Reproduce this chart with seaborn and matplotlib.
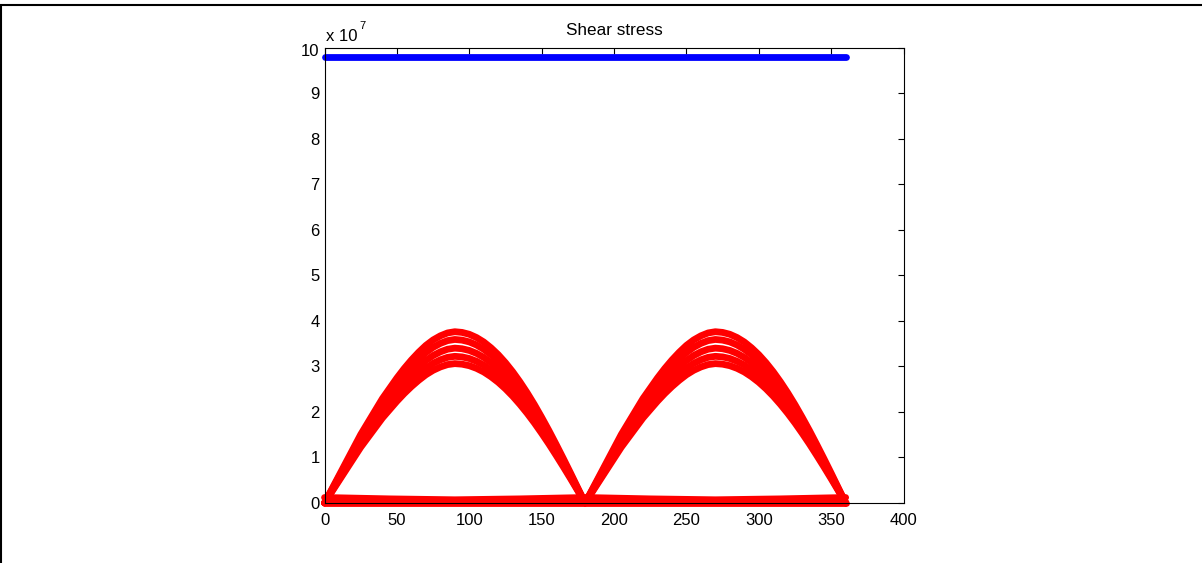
import numpy as np
import matplotlib
matplotlib.use("Agg")
import matplotlib.pyplot as plt
import seaborn as sns
from matplotlib.lines import Line2D
from matplotlib.ticker import FuncFormatter, MultipleLocator

# Crank angle grid (degrees)
angle_deg = np.arange(0, 361, 5)

# Normalised shear profile over one half turn: loading side (0-90 deg)
# followed by unloading side (95-180 deg)
loading_profile = [
    0.000, 0.080, 0.160, 0.240, 0.320, 0.400, 0.470, 0.540, 0.610, 0.670,
    0.730, 0.785, 0.835, 0.880, 0.920, 0.952, 0.976, 0.993, 1.000,
]
unloading_profile = [
    0.996, 0.985, 0.966, 0.940, 0.906, 0.866, 0.819, 0.766, 0.707, 0.643,
    0.574, 0.500, 0.423, 0.342, 0.259, 0.174, 0.087, 0.000,
]
half_turn_profile = loading_profile + unloading_profile
full_turn_profile = half_turn_profile + half_turn_profile[1:]

# Peak shear stress of each load case (Pa)
peak_stress = [3.06e7, 3.22e7, 3.40e7, 3.59e7, 3.76e7]

# Residual shear stress along the bottom (Pa)
floor_angles = [0, 45, 90, 135, 180, 225, 270, 315, 360]
floor_low = [0.01e7, 0.01e7, 0.01e7, 0.01e7, 0.01e7, 0.01e7, 0.01e7, 0.01e7, 0.01e7]
floor_high = [0.12e7, 0.09e7, 0.07e7, 0.09e7, 0.12e7, 0.09e7, 0.07e7, 0.09e7, 0.12e7]

# Allowable shear stress (Pa)
allow_angles = [0, 360]
allow_stress = [9.8e7, 9.8e7]

x_ticks = list(range(0, 401, 50))
y_scale = 1e7
y_top = 10

sns.set_theme(style="white")
plt.rcParams["font.family"] = ["Liberation Sans", "DejaVu Sans"]

fig = plt.figure(figsize=(12.02, 5.63), dpi=100)
ax = fig.add_axes([0.270, 0.1066, 0.4817, 0.809])

red = "#ff0000"
blue = "#0000ff"
lw = 4.9
line_kw = dict(estimator=None, sort=False, solid_capstyle="round",
               solid_joinstyle="round", clip_on=False, legend=False)

for peak in peak_stress:
    sns.lineplot(x=angle_deg, y=peak * np.array(full_turn_profile),
                 color=red, linewidth=lw, ax=ax, **line_kw)

for floor in (floor_low, floor_high):
    sns.lineplot(x=floor_angles, y=floor, color=red, linewidth=lw, ax=ax, **line_kw)

sns.lineplot(x=allow_angles, y=allow_stress, color=blue, linewidth=lw, ax=ax, **line_kw)

ax.set_xlim(0, 400)
ax.set_ylim(0, y_top * y_scale)
ax.set_xticks(x_ticks)
ax.yaxis.set_major_locator(MultipleLocator(y_scale))


def y_label(v, _):
    # the top label is placed by hand, slightly lower, below the exponent
    scaled = v / y_scale
    return "" if round(scaled) == y_top else f"{scaled:g}"


ax.yaxis.set_major_formatter(FuncFormatter(y_label))
ax.set_xlabel("")
ax.set_ylabel("")

for side in ax.spines.values():
    side.set_visible(True)
    side.set_color("black")
    side.set_linewidth(0.8)

ax.tick_params(axis="both", direction="in", top=True, right=True,
               length=4, width=0.8, color="black", labelsize=12, labelcolor="black")
ax.tick_params(axis="x", pad=7.2)
ax.tick_params(axis="y", pad=3.6)

ax.annotate(f"{y_top}", xy=(0, 1), xycoords="axes fraction", xytext=(-5.5, -4.3),
            textcoords="offset pixels", fontsize=12, color="black",
            ha="right", va="center")

ax.set_title("Shear stress", fontsize=12.3, color="black", pad=9)

# Exponent label above the y axis
ax.annotate("x 10", xy=(0, 1), xycoords="axes fraction", xytext=(1.2, 6.8),
            textcoords="offset pixels", fontsize=12, color="black",
            ha="left", va="baseline")
ax.annotate("7", xy=(0, 1), xycoords="axes fraction", xytext=(35, 19),
            textcoords="offset pixels", fontsize=8, color="black",
            ha="left", va="baseline")

# Window frame edges
fig.add_artist(Line2D([0, 1], [1 - 5 / 563, 1 - 5 / 563], transform=fig.transFigure,
                      color="black", linewidth=1.5))
fig.add_artist(Line2D([1 / 1202, 1 / 1202], [0, 1 - 5 / 563], transform=fig.transFigure,
                      color="black", linewidth=1.5))

fig.savefig("out.png", dpi=100, facecolor="white")
